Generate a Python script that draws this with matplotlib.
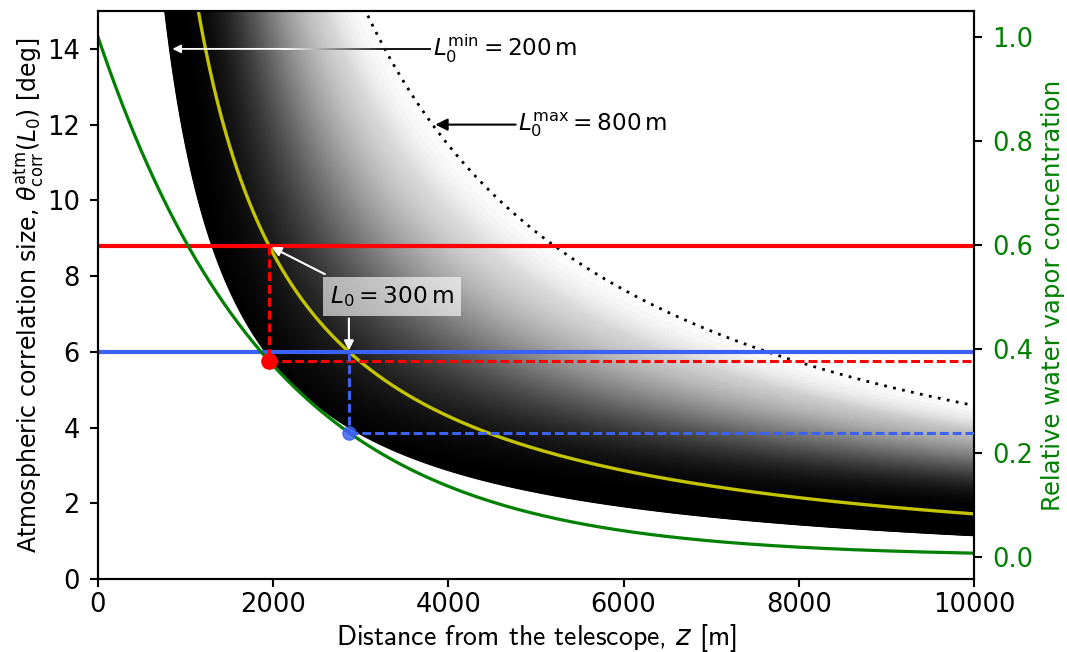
import numpy as np
import matplotlib
matplotlib.use("Agg")
import matplotlib.pyplot as plt
from matplotlib.collections import LineCollection

# ---------------- data ----------------
L0_min = 200.0        # m, lower outer scale
L0_max = 800.0        # m, upper outer scale
L0_ref = 300.0        # m, highlighted outer scale
H_vapor = 2000.0      # m, water vapour scale height
z_max = 10000.0       # m
theta_levels = [8.8, 6.0]          # deg, horizontal reference lines
level_colors = ["#ff0000", "#3d62f2"]
x_ticks = [0, 2000, 4000, 6000, 8000, 10000]
y_ticks_left = [0, 2, 4, 6, 8, 10, 12, 14]
y_ticks_right = [0.0, 0.2, 0.4, 0.6, 0.8, 1.0]
n_band = 600
theta_label_min = 14.0
theta_label_max = 12.0


def theta_corr(z, L0):
    return np.degrees(L0 / z)


def vapor(z):
    return np.exp(-z / H_vapor)


plt.rcParams["mathtext.fontset"] = "dejavusans"
plt.rcParams["font.family"] = ["DejaVu Sans"]

fig = plt.figure(figsize=(10.67, 6.52), dpi=100)
ax = fig.add_axes([0.0918, 0.112, 0.8210, 0.8711])
ax.set_xlim(0, z_max)
ax.set_ylim(0, 15)

# ---------------- band of curves ----------------
zb = np.linspace(300, z_max, 600)
L0s = np.linspace(L0_min, L0_max, n_band)
alphas = np.minimum(1.0, 2.3 * np.exp(-(L0s + 200.0) ** 2 / 188500.0))
alphas = alphas * np.clip((L0_max - L0s) / 120.0, 0, 1) ** 0.7
segs = [np.column_stack([zb, theta_corr(zb, L)]) for L in L0s]
cols = [(0, 0, 0, a) for a in alphas]
lc = LineCollection(segs, colors=cols, linewidths=1.0, zorder=1)
ax.add_collection(lc)

zc = np.linspace(300, z_max, 1500)
ax.plot(zc, theta_corr(zc, L0_ref), color="#c4c400", lw=2.4, zorder=3)
ax.plot(zc, theta_corr(zc, L0_max), color="k", lw=2.0,
        ls=(0, (1, 2.3)), zorder=3)

for th, c in zip(theta_levels, level_colors):
    ax.axhline(th, color=c, lw=3.0, zorder=4)

ax.set_xticks(x_ticks)
ax.set_yticks(y_ticks_left)
ax.tick_params(labelsize=18.5, length=6, width=1.5)
ax.tick_params(axis="y", pad=7)
for s in ax.spines.values():
    s.set_linewidth(1.5)
ax.set_xlabel("Distance from the telescope, $z$ [m]", fontsize=20, labelpad=2.5,
              family=["cmss10", "DejaVu Sans"])
ax.set_ylabel(r"Atmospheric correlation size, $\theta^{\rm atm}_{\rm corr}(L_0)$ [deg]",
              fontsize=17, labelpad=1)

# ---------------- annotations ----------------
z_min_tip = L0_min / np.radians(theta_label_min)
z_max_tip = L0_max / np.radians(theta_label_max)

ax.annotate(r"$L_0^{\rm min} = 200\,{\rm m}$", xy=(z_min_tip, theta_label_min),
            xytext=(3830, theta_label_min), va="center", ha="left", fontsize=16.7,
            arrowprops=dict(arrowstyle="-|>", color="white", lw=1.3,
                            shrinkA=0, shrinkB=2, mutation_scale=12), zorder=6)
# gradient part of the shaft (white over the dark band, dark over white)
zg = np.linspace(2100, 3800, 80)
gseg = [[(zg[i], theta_label_min), (zg[i + 1], theta_label_min)] for i in range(len(zg) - 1)]
gv = np.clip((zg[:-1] - 2100) / (3300 - 2100), 0, 1)
gcols = [(1 - v, 1 - v, 1 - v) for v in gv]
ax.add_collection(LineCollection(gseg, colors=gcols, linewidths=1.3, zorder=7))

ax.annotate(r"$L_0^{\rm max} = 800\,{\rm m}$", xy=(z_max_tip, theta_label_max),
            xytext=(4800, theta_label_max), va="center", ha="left", fontsize=16.7,
            arrowprops=dict(arrowstyle="-|>", color="black", lw=1.5,
                            shrinkA=0, shrinkB=2, mutation_scale=18), zorder=6)

z_star = [L0_ref / np.radians(th) for th in theta_levels]

ax.text(3360, 7.45, r"$L_0 = 300\,{\rm m}$", ha="center", va="center", fontsize=16.8,
        zorder=8,
        bbox=dict(boxstyle="square,pad=0.3", facecolor="white", alpha=0.62,
                  edgecolor="none"))
ax.annotate("", xy=(z_star[0], theta_levels[0]), xytext=(2590, 8.05),
            arrowprops=dict(arrowstyle="-|>", color="white", lw=1.5,
                            shrinkA=0, shrinkB=2, mutation_scale=14), zorder=8)
ax.annotate("", xy=(z_star[1], theta_levels[1]), xytext=(z_star[1], 6.88),
            arrowprops=dict(arrowstyle="-|>", color="white", lw=1.5,
                            shrinkA=0, shrinkB=1, mutation_scale=14), zorder=8)

# ---------------- right axis ----------------
ax2 = ax.twinx()
zg2 = np.linspace(0, z_max, 1000)
wv = vapor(zg2)
lo, hi = wv.min(), wv.max()
pad = 0.05 * (hi - lo)
lo2, hi2 = lo - pad, hi + pad
ax2.set_ylim(lo2, hi2)
ax2.plot(zg2, wv, color="#008000", lw=2.3, zorder=2)


def theta_to_right(th):
    return lo2 + th / 15.0 * (hi2 - lo2)


ms_list = [11, 9.5]
dot_alpha = [1.0, 0.85]
for zs, th, c, ms, da in zip(z_star, theta_levels, level_colors, ms_list, dot_alpha):
    r = vapor(zs)
    ax2.plot([zs, zs], [theta_to_right(th), r], color=c, lw=2.2,
             ls=(0, (2.9, 1.3)), zorder=3)
    ax2.plot([zs, z_max], [r, r], color=c, lw=2.2, ls=(0, (2.9, 1.3)), zorder=3)
    ax2.plot([zs], [r], "o", color=c, ms=ms, alpha=da, zorder=4)

ax2.set_yticks(y_ticks_right)
ax2.set_yticklabels([f"{v:.1f}" for v in y_ticks_right])
ax2.tick_params(axis="y", labelsize=18.5, length=6, width=1.5, labelcolor="#008000", pad=7)
for s in ax2.spines.values():
    s.set_linewidth(1.5)
ax2.set_ylabel("Relative water vapor concentration", fontsize=17.6, color="#008000",
               labelpad=6)
ax2.set_xlim(0, z_max)

fig.savefig("out.png", dpi=100)
